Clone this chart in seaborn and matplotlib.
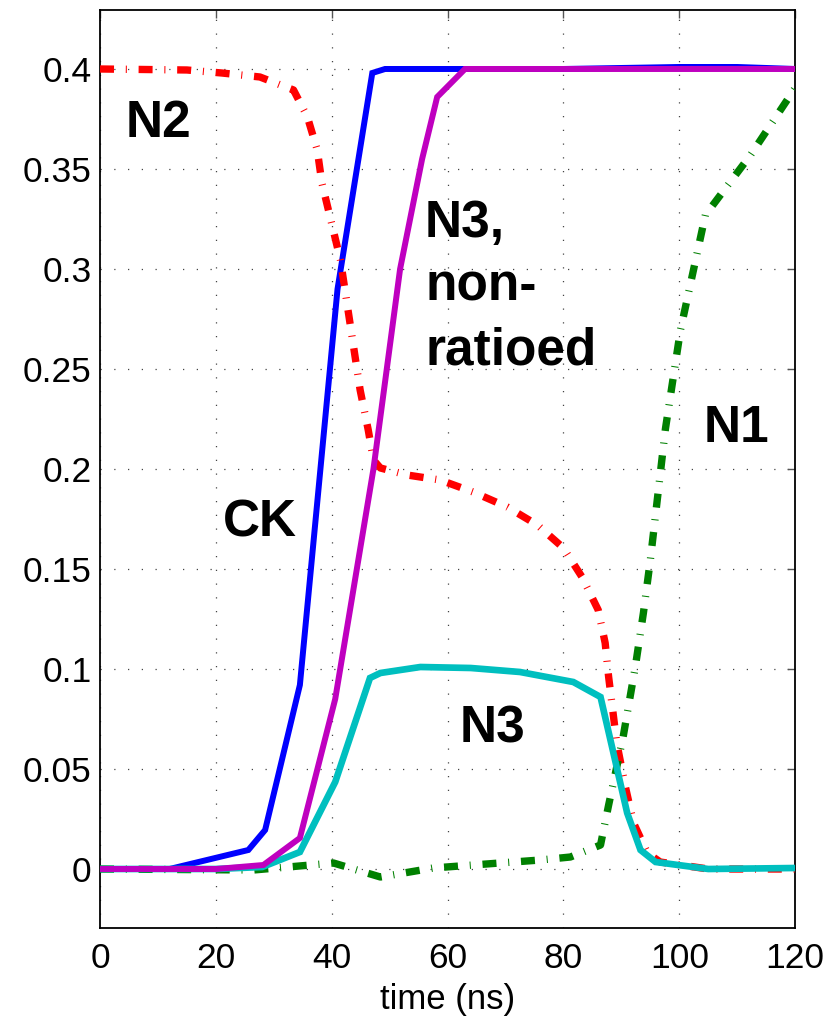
import numpy as np
import pandas as pd
import matplotlib
matplotlib.use("Agg")
import matplotlib.pyplot as plt
import seaborn as sns

# ---- data ----
ck_t = [0, 12, 25.6, 28.5, 34.5, 41, 47, 49.2, 60, 80, 100, 110, 120]
ck_v = [0, 0, 0.0095, 0.0195, 0.092, 0.29, 0.398, 0.4, 0.4, 0.4, 0.401, 0.401, 0.4]

n3nr_t = [0, 20, 28.2, 34.5, 40.6, 47.2, 51.8, 55.6, 58.2, 63, 80, 100, 120]
n3nr_v = [0, 0, 0.002, 0.0155, 0.085, 0.2, 0.3, 0.355, 0.386, 0.4, 0.4, 0.4, 0.4]

n3_t = [0, 20, 28, 34.5, 40.6, 46.6, 48.4, 55.3, 64, 72.5, 81.7, 86.4, 89.3, 91, 93.3, 95.9, 105, 120]
n3_v = [0, 0, 0.001, 0.0085, 0.0435, 0.0955, 0.098, 0.101, 0.1005, 0.0985, 0.0935, 0.086, 0.0495, 0.028, 0.0095, 0.0035, 0.0, 0.0005]

n2_t = [0, 15, 21, 27.6, 33.4, 35.8, 37.5, 38.3, 41.5, 44.9, 46.3, 47.2, 48.4, 53, 58.7, 64.4,
        70.3, 75.5, 80, 83.2, 86, 87.2, 87.8, 89.2, 90.7, 92.1, 94.5, 96.7, 105, 120]
n2_v = [0.4, 0.3995, 0.398, 0.396, 0.3895, 0.376, 0.3595, 0.343, 0.3045, 0.2395, 0.2195, 0.2045,
        0.2005, 0.197, 0.1945, 0.1885, 0.181, 0.172, 0.1605, 0.146, 0.1295, 0.113, 0.096, 0.063,
        0.041, 0.023, 0.008, 0.0035, 0.0, 0.0]

n1_t = [0, 26.5, 40.3, 48.4, 57.5, 69, 76, 81.2, 86.4, 87.8, 90.3, 92.4, 93.8, 95, 97.6, 100.2, 104.5, 112.3, 120]
n1_v = [0, -0.0005, 0.003, -0.004, 0.0005, 0.003, 0.0045, 0.006, 0.012, 0.032, 0.066, 0.101,
        0.128, 0.1545, 0.22, 0.2695, 0.327, 0.357, 0.3905]

x_ticks = [0, 20, 40, 60, 80, 100, 120]
y_ticks = [0, 0.05, 0.1, 0.15, 0.2, 0.25, 0.3, 0.35, 0.4]
y_tick_labels = ["0", "0.05", "0.1", "0.15", "0.2", "0.25", "0.3", "0.35", "0.4"]
x_label = "time (ns)"

# ---- style ----
sns.set_style("white")
plt.rcParams["font.family"] = ["Liberation Sans", "DejaVu Sans"]
plt.rcParams["text.color"] = "black"
plt.rcParams["axes.labelcolor"] = "black"
plt.rcParams["xtick.color"] = "black"
plt.rcParams["ytick.color"] = "black"

fig = plt.figure(figsize=(8.35, 10.19), dpi=100)
ax = fig.add_axes([0.1198, 0.0893, 0.8325, 0.9009])

dashdot = (0, (1.9, 1.6, 0.14, 1.6))
solid_lw = 4.3
dd_lw = 5.3

def draw(t, v, color, ls, lw, z):
    df = pd.DataFrame({"t": t, "v": v})
    sns.lineplot(data=df, x="t", y="v", ax=ax, color=color, linestyle=ls,
                 linewidth=lw, sort=False, estimator=None, zorder=z)

draw(ck_t, ck_v, "#0000ff", "-", solid_lw, 3)
draw(n2_t, n2_v, "#ff0000", dashdot, dd_lw, 4)
draw(n1_t, n1_v, "#008000", dashdot, dd_lw, 4)
draw(n3_t, n3_v, "#00bfbf", "-", solid_lw + 0.5, 5)
draw(n3nr_t, n3nr_v, "#bf00bf", "-", solid_lw, 6)

for line in ax.get_lines():
    line.set_dash_capstyle("butt")
    line.set_solid_joinstyle("miter")
    line.set_solid_capstyle("butt")

ax.set_xlim(0, 120)
ax.set_ylim(-0.0295, 0.4295)
ax.set_xticks(x_ticks)
ax.set_xticklabels([str(x) for x in x_ticks])
ax.set_yticks(y_ticks)
ax.set_yticklabels(y_tick_labels)
ax.set_xlabel(x_label, fontsize=25, labelpad=6, color="black")
ax.set_ylabel("")

ax.grid(True, color="#444444", linestyle=(0, (1, 10)), linewidth=0.9)
ax.tick_params(axis="both", which="both", direction="in", length=6, width=1,
               color="#555555", labelcolor="black", labelsize=25.5,
               top=True, right=True)
ax.tick_params(axis="x", pad=10)
ax.tick_params(axis="y", pad=6)
for sp in ax.spines.values():
    sp.set_visible(True)
    sp.set_color("black")
    sp.set_linewidth(1.3)

lab = dict(fontsize=37, fontweight="bold", color="black", va="baseline", zorder=10)
ax.text(10.0, 0.366, "N2", ha="center", **lab)
ax.text(56.1, 0.252, "N3,\nnon-\nratioed", ha="left", linespacing=1.4, **lab)
ax.text(27.6, 0.166, "CK", ha="center", **lab)
ax.text(67.8, 0.063, "N3", ha="center", **lab)
ax.text(109.8, 0.2135, "N1", ha="center", **lab)

fig.savefig("out.png", dpi=100)
